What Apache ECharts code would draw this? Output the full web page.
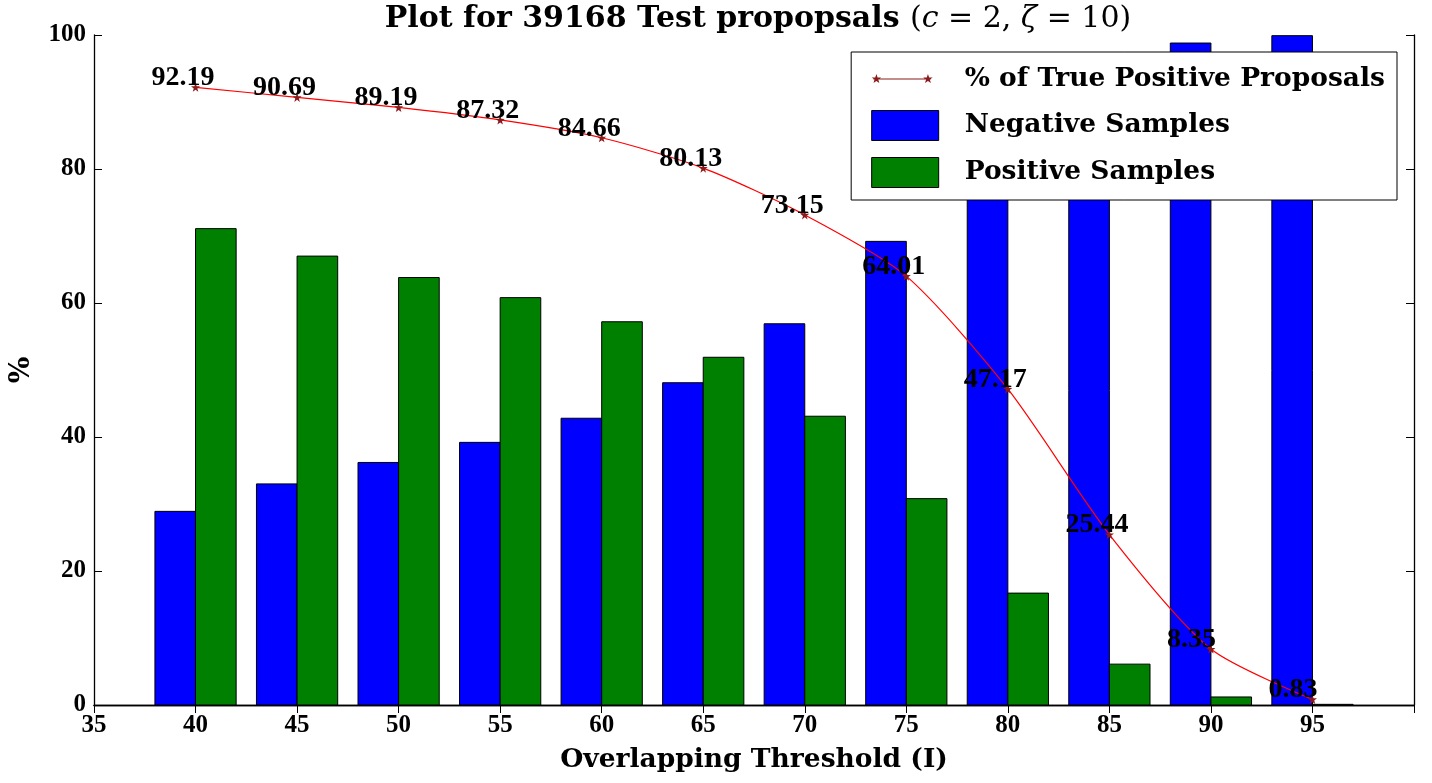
<!DOCTYPE html>
<html>
<head>
<meta charset="utf-8">
<script src="https://cdn.jsdelivr.net/npm/echarts@6/dist/echarts.min.js"></script>
<style>
    html, body { margin: 0; padding: 0; background: #fff; }
    #chart { width: 1432px; height: 783px; }
</style>
</head>
<body>
<div id="chart"></div>
<script>
// 数据
const thresholds = [40, 45, 50, 55, 60, 65, 70, 75, 80, 85, 90, 95];
const negativeSamples = [28.9, 33.0, 36.2, 39.2, 42.8, 48.1, 56.9, 69.2, 83.3, 93.9, 98.8, 99.9];
const positiveSamples = [71.1, 67.0, 63.8, 60.8, 57.2, 51.9, 43.1, 30.8, 16.7, 6.1, 1.2, 0.1];
const truePositive = [92.19, 90.69, 89.19, 87.32, 84.66, 80.13, 73.15, 64.01, 47.17, 25.44, 8.35, 0.83];

// 数字用窄字体, 文字用宽字体
const FONT_NUM = '"Liberation Serif", "DejaVu Serif", serif';
const FONT_TEXT = '"DejaVu Serif", "Liberation Serif", serif';
const BAR_WIDTH = 2;

// 五角星路径
function starPath (cx, cy, r1, r2) {
    let pts = [];
    for (let i = 0; i < 10; i++) {
        let r = i % 2 ? r2 : r1;
        let a = (-90 + i * 36) * Math.PI / 180;
        pts.push((cx + r * Math.cos(a)).toFixed(2) + ' ' + (cy + r * Math.sin(a)).toFixed(2));
    }
    return 'M' + pts.join(' L') + ' Z';
}

// 图例图标, 末尾的空点用来撑开宽度
const lineIcon = 'path://M0 0 L0 0 M88 30 L88 30 M1 14.6 L59 14.6 L59 15.4 L1 15.4 Z '
    + starPath(4, 15, 5, 2) + ' ' + starPath(56, 15, 5, 2);
const rectIcon = 'path://M0 0 L67 0 L67 30 L0 30 Z M88 15 L88 15';

// 柱子: side = -1 在左, 1 在右
function barRenderer (side, color) {
    return function (params, api) {
        let x = api.value(0);
        let v = api.value(1);
        let x0 = side < 0 ? x - BAR_WIDTH : x;
        let p0 = api.coord([x0, 0]);
        let p1 = api.coord([x0 + BAR_WIDTH, v]);
        return {
            type: 'rect',
            shape: { x: p0[0], y: p1[1], width: p1[0] - p0[0], height: p0[1] - p1[1] },
            style: { fill: color, stroke: '#000', lineWidth: 1 }
        };
    };
}

const axisTick = { show: true, inside: true, length: 8, lineStyle: { color: '#000', width: 1 } };
const axisLine = { show: true, lineStyle: { color: '#000', width: 1.3 } };
const labelStyle = { color: '#000', fontFamily: FONT_NUM, fontWeight: 'bold', fontSize: 25 };

let chart = echarts.init(document.getElementById('chart'));
chart.setOption({
    animation: false,
    backgroundColor: '#fff',
    title: {
        text: '{b|Plot for 39168 Test propopsals }{r|(}{i|c}{r| = 2, }{i|ζ}{r| = 10)}',
        left: 753,
        textAlign: 'center',
        top: -1,
        textStyle: {
            rich: {
                b: { fontFamily: FONT_TEXT, fontWeight: 'bold', fontSize: 30, color: '#000' },
                r: { fontFamily: FONT_TEXT, fontWeight: 'normal', fontSize: 30, color: '#000' },
                i: { fontFamily: FONT_TEXT, fontWeight: 'normal', fontStyle: 'italic', fontSize: 30, color: '#000' }
            }
        }
    },
    legend: {
        orient: 'vertical',
        right: 35,
        top: 52,
        padding: [12, 12, 12, 20],
        itemWidth: 88,
        itemHeight: 30,
        itemGap: 16,
        backgroundColor: '#fff',
        borderColor: '#000',
        borderWidth: 1,
        borderRadius: 0,
        textStyle: { color: '#000', fontFamily: FONT_TEXT, fontWeight: 'bold', fontSize: 26.5, lineHeight: 30 },
        data: [
            { name: '% of True Positive Proposals', icon: lineIcon },
            { name: 'Negative Samples', icon: rectIcon, itemStyle: { color: '#0000ff', borderColor: '#000', borderWidth: 1 } },
            { name: 'Positive Samples', icon: rectIcon, itemStyle: { color: '#008000', borderColor: '#000', borderWidth: 1 } }
        ]
    },
    grid: { left: 92, right: 18, top: 35, bottom: 78 },
    xAxis: [{
        type: 'value',
        min: 35,
        max: 100,
        interval: 5,
        name: 'Overlapping Threshold (I)',
        nameLocation: 'middle',
        nameGap: 42,
        nameTextStyle: { color: '#000', fontFamily: FONT_TEXT, fontWeight: 'bold', fontSize: 26.5 },
        axisLine: axisLine,
        axisTick: axisTick,
        axisLabel: Object.assign({ margin: 8, showMaxLabel: false }, labelStyle),
        splitLine: { show: false }
    }, {
        type: 'value',
        position: 'top',
        min: 35,
        max: 100,
        interval: 5,
        axisLine: axisLine,
        axisTick: axisTick,
        axisLabel: { show: false },
        splitLine: { show: false }
    }],
    yAxis: [{
        type: 'value',
        min: 0,
        max: 100,
        interval: 20,
        name: '%',
        nameLocation: 'middle',
        nameGap: 58,
        nameTextStyle: { color: '#000', fontFamily: FONT_TEXT, fontWeight: 'bold', fontSize: 28 },
        axisLine: axisLine,
        axisTick: axisTick,
        axisLabel: Object.assign({ margin: 8 }, labelStyle),
        splitLine: { show: false }
    }, {
        type: 'value',
        position: 'right',
        min: 0,
        max: 100,
        interval: 20,
        axisLine: axisLine,
        axisTick: axisTick,
        axisLabel: { show: false },
        splitLine: { show: false }
    }],
    series: [{
        name: 'Negative Samples',
        type: 'custom',
        xAxisIndex: 0,
        yAxisIndex: 0,
        itemStyle: { color: '#0000ff', borderColor: '#000', borderWidth: 1 },
        renderItem: barRenderer(-1, '#0000ff'),
        data: thresholds.map((t, i) => [t, negativeSamples[i]]),
        z: 2
    }, {
        name: 'Positive Samples',
        type: 'custom',
        xAxisIndex: 0,
        yAxisIndex: 0,
        itemStyle: { color: '#008000', borderColor: '#000', borderWidth: 1 },
        renderItem: barRenderer(1, '#008000'),
        data: thresholds.map((t, i) => [t, positiveSamples[i]]),
        z: 2
    }, {
        name: '% of True Positive Proposals',
        type: 'line',
        xAxisIndex: 0,
        yAxisIndex: 0,
        smooth: 0.25,
        symbol: 'path://' + starPath(0, 0, 5, 2),
        symbolSize: 9,
        itemStyle: { color: '#8b1a1a' },
        lineStyle: { color: '#ff0000', width: 1.2 },
        label: {
            show: true,
            position: 'top',
            distance: 0,
            align: 'left',
            verticalAlign: 'bottom',
            offset: [-44, 9],
            formatter: p => p.value[1].toFixed(2),
            color: '#000',
            fontFamily: FONT_NUM,
            fontWeight: 'bold',
            fontSize: 28
        },
        data: thresholds.map((t, i) => [t, truePositive[i]]),
        z: 5
    }]
});
</script>
</body>
</html>
